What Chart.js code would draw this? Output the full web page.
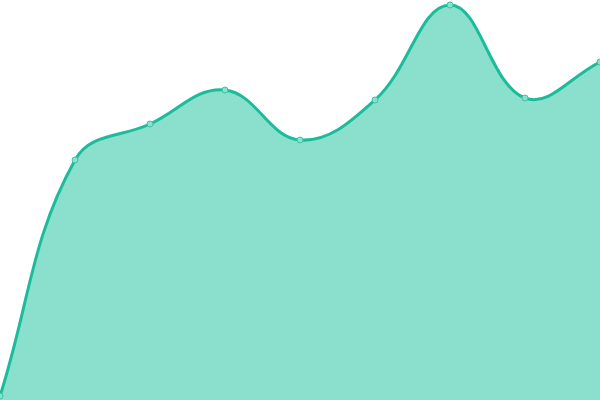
<!DOCTYPE html>
<html>
<head>
<meta charset="utf-8">
<script src="https://cdn.jsdelivr.net/npm/chart.js@4/dist/chart.umd.min.js"></script>
<style>
  html, body { margin: 0; padding: 0; background: #fff; }
  #wrap { width: 600px; height: 400px; }
</style>
</head>
<body>
<div id="wrap"><canvas id="areachart" width="600" height="400"></canvas></div>
<script>
// данные графика
const labels = ["1", "2", "3", "4", "5", "6", "7", "8", "9"];
const values = [4, 240, 276, 310, 260, 300, 395, 302, 338];

const ctx = document.getElementById('areachart').getContext('2d');

const areachart = new Chart(ctx, {
  type: 'line',
  data: {
    labels: labels,
    datasets: [{
      data: values,
      fill: 'origin',
      backgroundColor: '#8adfcd',
      borderColor: '#1abc9c',
      borderWidth: 3,
      tension: 0.4,
      pointRadius: 3,
      pointBorderWidth: 1,
      pointBackgroundColor: '#8adfcd',
      pointBorderColor: '#3cc3a6'
    }]
  },
  options: {
    responsive: false,
    animation: false,
    layout: { padding: 0, autoPadding: false },
    scales: {
      x: { display: false, offset: false },
      y: { display: false, min: 0, max: 400 }
    },
    plugins: {
      legend: { display: false },
      tooltip: { enabled: false }
    }
  }
});
</script>
</body>
</html>
